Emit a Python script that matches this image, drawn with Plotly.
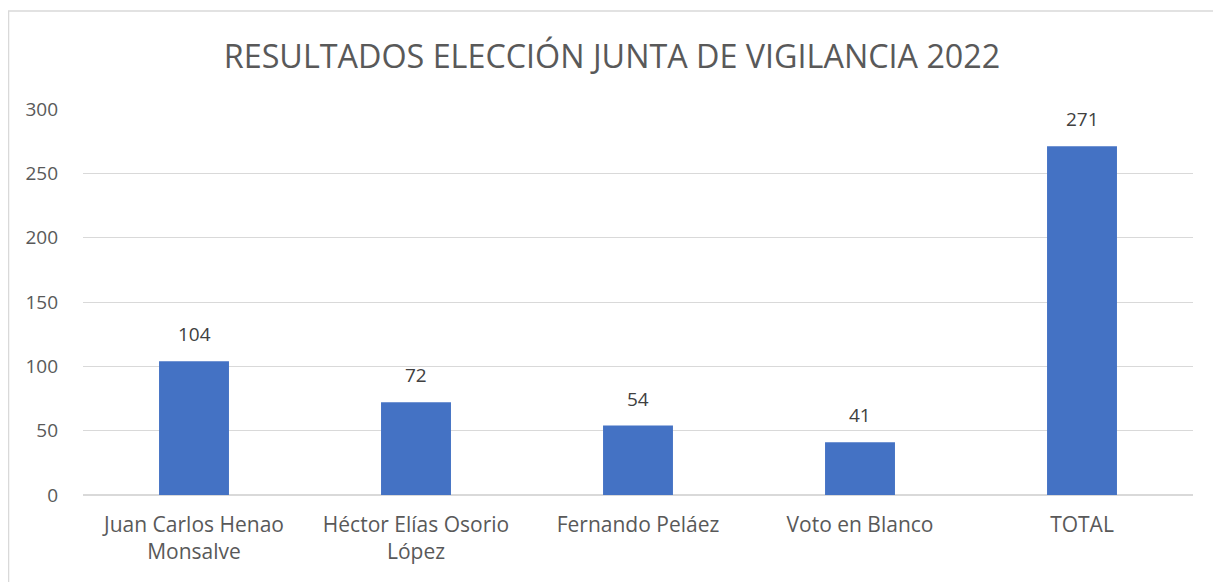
import plotly.graph_objects as go

categories = ["Juan Carlos Henao<br>Monsalve", "Héctor Elías Osorio<br>López",
              "Fernando Peláez", "Voto en Blanco", "TOTAL"]
values = [104, 72, 54, 41, 271]
y_ticks = [0, 50, 100, 150, 200, 250, 300]

title = "RESULTADOS ELECCIÓN JUNTA DE VIGILANCIA 2022"
font_family = "Open Sans, sans-serif"

fig = go.Figure()
fig.add_trace(go.Bar(
    x=list(range(len(categories))), y=values,
    marker=dict(color="#4472C4", line=dict(width=0)),
    hoverinfo="x+y",
))

for i, v in enumerate(values):
    fig.add_annotation(x=i, y=v, text=str(v), showarrow=False,
                       yanchor="bottom", yshift=12,
                       font=dict(family=font_family, size=19, color="#404040"))

fig.add_shape(type="rect", xref="paper", yref="paper",
              x0=-0.0671, x1=1.0225, y0=-0.3, y1=1.2539,
              line=dict(color="#d9d9d9", width=1.5), fillcolor="rgba(0,0,0,0)",
              layer="below")

fig.update_layout(
    width=1221, height=582,
    margin=dict(l=75, r=36, t=101, b=95),
    paper_bgcolor="white", plot_bgcolor="white",
    bargap=0.685,
    showlegend=False,
    title=dict(text=title, x=0.4947, xanchor="center", y=0.9158, yanchor="middle",
               font=dict(family=font_family, size=32.3, color="#595959")),
    font=dict(family=font_family, size=19, color="#595959"),
    xaxis=dict(tickmode="array", tickvals=list(range(len(categories))),
               ticktext=categories, range=[-0.5, len(categories) - 0.5],
               showgrid=False, showline=False, zeroline=False, ticks="",
               ticklabelstandoff=15,
               tickfont=dict(family=font_family, size=21, color="#595959")),
    yaxis=dict(range=[0, 300], tickmode="array", tickvals=y_ticks,
               showgrid=True, gridcolor="#d9d9d9", gridwidth=1,
               zeroline=True, zerolinecolor="#d9d9d9", zerolinewidth=1.5,
               showline=False, ticks="", ticklabelstandoff=24,
               tickfont=dict(family=font_family, size=19, color="#595959")),
)

fig.write_html("out.html")
